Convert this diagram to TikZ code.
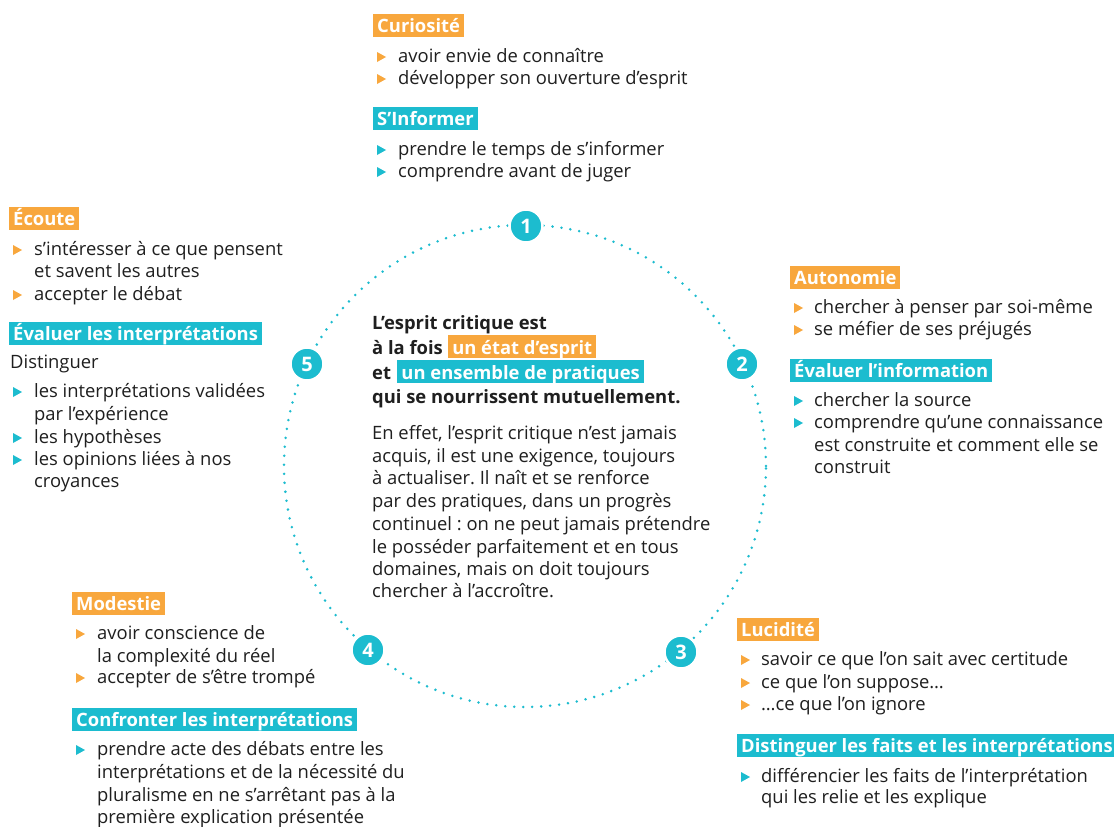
\documentclass[tikz,border=0pt]{standalone}
\usepackage{fontspec}
\setmainfont{Open Sans}
\usetikzlibrary{positioning}

\definecolor{orangeEC}{HTML}{F8A73D}
\definecolor{tealEC}{HTML}{1CBCCF}
\definecolor{ink}{HTML}{1F1F1F}

\newcommand\corps{\fontsize{18.4}{22}\selectfont\frenchspacing}
% bullet triangle, sitting on a baseline
\newcommand\puce[3]{\fill[#1] (#2,#3) -- ++(0,-10) -- ++(9,5) -- cycle;}

\tikzset{
  txt/.style={anchor=base west, inner sep=0pt, text=ink, font=\corps},
  tag/.style={anchor=north west, text=white, font=\bfseries\corps,
    inner xsep=4pt, inner ysep=0pt, text height=18pt, text depth=5pt},
  tagO/.style={tag, fill=orangeEC},
  tagT/.style={tag, fill=tealEC},
  hl/.style={anchor=base west, text=white, font=\bfseries\corps,
    inner xsep=4pt, inner ysep=0pt, text height=19pt, text depth=4pt},
  num/.style={circle, fill=tealEC, draw=white, line width=2.5pt, text=white,
    font=\bfseries\fontsize{20}{20}\selectfont, minimum size=33pt, inner sep=0pt},
  ring/.style={tealEC, line width=2.8pt, line cap=round, dash pattern=on 0pt off 9pt},
}

\begin{document}
\begin{tikzpicture}[x=1pt,y=-1pt]
  \fill[white] (0,0) rectangle (1114,827);
  \useasboundingbox (0,0) rectangle (1114,827);

  % dotted ring and the five steps
  \coordinate (c) at (525,466);
  \draw[ring] (c) circle[radius=241pt];
  \node[num] (n1) at (526,226) {1};
  \node[num] (n2) at (742,364) {2};
  \node[num] (n3) at (681,652) {3};
  \node[num] (n4) at (368,650) {4};
  \node[num] (n5) at (307,364) {5};

  % centre
  \node[txt, font=\bfseries\corps] (def1) at (372,329) {L’esprit critique est};
  \node[txt, font=\bfseries\corps] (def2) at (372,354) {à la fois};
  \node[hl, fill=orangeEC] (etat) at ([xshift=5pt]def2.base east) {un état d’esprit};
  \node[txt, font=\bfseries\corps] (def3) at (372,379) {et};
  \node[hl, fill=tealEC] (prat) at ([xshift=6pt]def3.base east) {un ensemble de pratiques};
  \node[txt, font=\bfseries\corps] (def4) at (372,403) {qui se nourrissent mutuellement.};
  \foreach \y/\t [count=\i] in {
    439/{En effet, l’esprit critique n’est jamais},
    462/{acquis, il est une exigence, toujours},
    484/{à actualiser. Il naît et se renforce},
    507/{par des pratiques, dans un progrès},
    530/{continuel : on ne peut jamais prétendre},
    553/{le posséder parfaitement et en tous},
    575/{domaines, mais on doit toujours},
    597/{chercher à l’accroître.}}
    \node[txt] (para-\i) at (372,\y) {\t};

  % 1 : Curiosite / S'informer
  \node[tagO] (curio) at (373,14) {Curiosité};
  \node[tagT] (sinfo) at (373,107) {S’Informer};
  \foreach \y/\t [count=\i] in {62/avoir envie de connaître, 84/développer son ouverture d’esprit}
    \node[txt] (curio-\i) at (398,\y) {\t};
  \foreach \y/\t [count=\i] in {155/prendre le temps de s’informer, 177/comprendre avant de juger}
    \node[txt] (sinfo-\i) at (398,\y) {\t};
  \foreach \y in {62,84} {\puce{orangeEC}{377}{\y}}
  \foreach \y in {155,177} {\puce{tealEC}{377}{\y}}

  % 2 : Autonomie / Evaluer l'information
  \node[tagO] (auto) at (790,266) {Autonomie};
  \node[tagT] (evinf) at (790,359) {Évaluer l’information};
  \foreach \y/\t [count=\i] in {313/chercher à penser par soi-même, 335/se méfier de ses préjugés}
    \node[txt] (auto-\i) at (814,\y) {\t};
  \foreach \y/\t [count=\i] in {406/chercher la source, 428/comprendre qu’une connaissance,
    451/est construite et comment elle se, 473/construit}
    \node[txt] (evinf-\i) at (814,\y) {\t};
  \foreach \y in {313,335} {\puce{orangeEC}{794}{\y}}
  \foreach \y in {406,428} {\puce{tealEC}{794}{\y}}

  % 3 : Lucidite / Distinguer
  \node[tagO] (luci) at (737,618) {Lucidité};
  \node[tagT] (disti) at (737,734) {Distinguer les faits et les interprétations};
  \foreach \y/\t [count=\i] in {665/savoir ce que l’on sait avec certitude, 688/ce que l’on suppose…,
    710/…ce que l’on ignore}
    \node[txt] (luci-\i) at (761,\y) {\t};
  \foreach \y/\t [count=\i] in {782/différencier les faits de l’interprétation, 803/qui les relie et les explique}
    \node[txt] (disti-\i) at (761,\y) {\t};
  \foreach \y in {665,688,710} {\puce{orangeEC}{741}{\y}}
  \foreach \y in {782} {\puce{tealEC}{741}{\y}}

  % 4 : Modestie / Confronter
  \node[tagO] (mode) at (72,592) {Modestie};
  \node[tagT] (confr) at (72,708) {Confronter les interprétations};
  \foreach \y/\t [count=\i] in {639/avoir conscience de, 662/la complexité du réel, 683/accepter de s’être trompé}
    \node[txt] (mode-\i) at (97,\y) {\t};
  \foreach \y/\t [count=\i] in {755/prendre acte des débats entre les,
    778/interprétations et de la nécessité du,
    801/pluralisme en ne s’arrêtant pas à la,
    823/première explication présentée}
    \node[txt] (confr-\i) at (97,\y) {\t};
  \foreach \y in {639,683} {\puce{orangeEC}{76}{\y}}
  \foreach \y in {755} {\puce{tealEC}{76}{\y}}

  % 5 : Ecoute / Evaluer les interpretations
  \node[tagO] (ecou) at (9,207) {Écoute};
  \node[tagT] (evint) at (9,322) {Évaluer les interprétations};
  \foreach \y/\t [count=\i] in {255/s’intéresser à ce que pensent, 277/et savent les autres, 300/accepter le débat}
    \node[txt] (ecou-\i) at (34,\y) {\t};
  \node[txt] (dist) at (10,368) {Distinguer};
  \foreach \y/\t [count=\i] in {397/les interprétations validées, 420/par l’expérience, 443/les hypothèses,
    465/les opinions liées à nos, 487/croyances}
    \node[txt] (evint-\i) at (34,\y) {\t};
  \foreach \y in {255,300} {\puce{orangeEC}{13}{\y}}
  \foreach \y in {397,443,465} {\puce{tealEC}{13}{\y}}
\end{tikzpicture}
\end{document}
